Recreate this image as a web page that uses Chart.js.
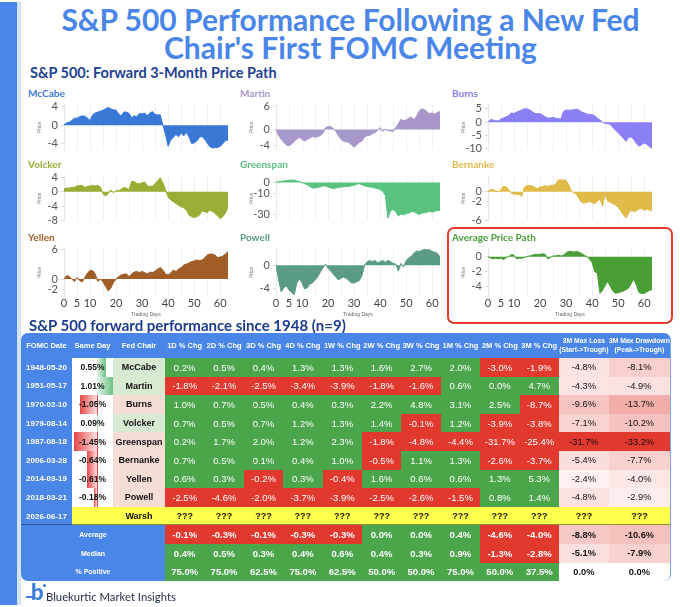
<!DOCTYPE html>
<html>
<head>
<meta charset="utf-8">
<title>S&amp;P 500 Performance Following a New Fed Chair's First FOMC Meeting</title>
<script src="https://cdn.jsdelivr.net/npm/chart.js@4.4.1/dist/chart.umd.min.js"></script>
<style>
  body { margin: 0; width: 680px; height: 607px; position: relative; overflow: hidden; background: #fff; font-family: Lato, "Noto Sans", sans-serif; }
  .abs { position: absolute; white-space: nowrap; }
  canvas { position: absolute; }
  #barL { left: 0; top: 2px; width: 17px; height: 603px; background: #4a86e8; }
  #barL2 { left: 17px; top: 2px; width: 4px; height: 603px; background: #d3e3f9; }
  #title { left: 21px; top: 5px; width: 659px; text-align: center; font-weight: 700; font-size: 30px; line-height: 28px; color: #4a86e8; white-space: normal; }
  #sub { left: 30px; top: 65px; font-weight: 700; font-size: 14.5px; line-height: 16px; color: #1f3f8f; }
  .lbl { font-weight: 700; font-size: 10px; line-height: 12px; }
  #avgBox { left: 447px; top: 227px; width: 222px; height: 93px; border: 2px solid #e33b2e; border-radius: 7px; }
  #tblTitle { left: 29px; top: 316px; font-weight: 700; font-size: 15px; line-height: 18px; color: #1d3c8c; }
  #perf { position: absolute; left: 21px; top: 333px; width: 649px; height: 248px; background: #4a86e8;
          border-radius: 7px; border-right: 1px solid #7aa7ef; overflow: hidden; display: grid;
          grid-template-columns: 51px 41px 52px repeat(10, 39.4px) 50px 61px;
          grid-template-rows: 25px repeat(12, 18.6px);
          font-family: "Liberation Sans", Arial, sans-serif; }
  #perf div { display: flex; align-items: center; justify-content: center; position: relative; overflow: hidden; }
  .hd { color: #fff; font-weight: 700; font-size: 7.5px; text-align: center; line-height: 9px; white-space: pre; }
  #perf div.hd2 { font-size: 6.8px; line-height: 8.5px; overflow: visible; }
  .dt { color: #fff; font-weight: 700; font-size: 8px; }
  .sd { background: #fff; color: #111; font-weight: 700; font-size: 8.5px; }
  .sd span { position: relative; z-index: 2; }
  .nm { color: #111; font-weight: 700; font-size: 9px; }
  .num { color: #fff; font-size: 9.5px; }
  .bold { font-weight: 700; }
  .ls { color: #111; font-size: 9.3px; }
  .yel { background: #ffff4d; color: #111; font-weight: 700; font-size: 9px; box-shadow: inset 0 -1px 0 #8d8d3a; }
  .sl { color: #fff; font-weight: 700; font-size: 7px; grid-column: span 3; }
  #logoB { left: 31px; top: 580px; font-weight: 900; font-size: 22px; line-height: 24px; color: #3d7de0; }
  #logoLine { left: 26px; top: 596px; width: 8px; height: 2px; background: #3d7de0; }
  #logoDot { left: 43px; top: 584px; width: 3px; height: 3px; border-radius: 50%; background: #3d7de0; }
  #brand { left: 46px; top: 589px; font-size: 11.3px; line-height: 16px; color: #1d2a48; }
</style>
</head>
<body>
<div class="abs" id="barL"></div>
<div class="abs" id="barL2"></div>
<div class="abs" id="title">S&amp;P 500 Performance Following a New Fed<br>Chair's First FOMC Meeting</div>
<div class="abs" id="sub">S&amp;P 500: Forward 3-Month Price Path</div>
<div class="abs" id="avgBox"></div>
<div id="charts"></div>
<div class="abs" id="tblTitle">S&amp;P 500 forward performance since 1948 (n=9)</div>
<div id="perf"></div>
<div class="abs" id="logoLine"></div>
<div class="abs" id="logoB">b</div>
<div class="abs" id="logoDot"></div>
<div class="abs" id="brand">Bluekurtic Market Insights</div>

<script>
// ---- price paths (% change from FOMC day, by trading day) ----
const days = [0,1,2,3,4,5,6,7,8,9,10,11,12,13,14,15,16,17,18,19,20,21,22,23,24,25,26,27,28,29,30,31,
              32,33,34,35,36,37,38,39,40,41,42,43,44,45,46,47,48,49,50,51,52,53,54,55,56,57,58,59,60,61,62,63];

const mccabe = [0,0.5,0.6,1.0,1.5,1.5,1.8,2.0,1.9,1.5,1.0,2.2,2.6,2.8,3.0,3.2,3.5,3.8,3.5,3.3,3.2,2.4,2.0,2.8,2.8,2.5,1.6,2.0,1.8,2.5,2.4,2.6,
                2.0,2.6,2.9,2.3,2.2,2.2,0,-2.0,-4.5,-3.2,-2.6,-2.0,-2.5,-1.6,-2.3,-1.5,-2.5,-3.9,-3.8,-3.4,-2.6,-2.4,-3.0,-3.8,-4.6,-4.9,-4.8,-4.8,-4.5,-4.0,-3.3,-3.2];
const martin = [0,-1.5,-2.5,-3.3,-4.0,-4.2,-3.8,-3.0,-2.5,-2.0,-2.5,-3.0,-2.6,-2.2,-1.8,-2.0,-1.8,-1.6,-1.0,0.5,0.8,0.8,0.3,-0.5,-1.6,-2.5,-3.0,-3.2,-3.3,-4.0,-4.5,-4.0,
                -3.3,-3.0,-2.0,-1.5,-1.5,-1.0,-0.8,-0.2,0.5,-0.5,0.2,-0.3,-0.3,-0.5,0.5,1.5,2.7,2.3,2.5,3.0,3.3,2.5,3.5,4.8,5.4,5.2,4.6,4.2,4.3,4.0,4.5,4.7];
const burns = [0,1.0,0.8,0.5,0.5,1.2,1.6,2.0,2.5,3.5,3.2,3.8,4.2,4.6,5.0,5.0,4.6,4.0,3.3,3.2,3.2,2.6,2.0,1.5,1.6,1.8,1.5,1.3,1.2,4.0,4.6,4.5,
               4.5,4.7,4.9,4.5,3.8,3.5,3.0,3.0,2.8,2.5,1.5,0.8,0,-0.5,-0.6,-0.8,-2.0,-3.0,-4.0,-5.0,-6.0,-7.2,-5.8,-5.5,-6.5,-8.0,-9.0,-8.5,-7.8,-8.3,-9.2,-9.8];
const volcker = [0.8,1.0,1.0,1.2,1.2,1.6,1.7,1.8,1.2,1.5,1.6,1.7,1.6,1.8,1.3,-0.6,-1.2,-0.5,0.5,-0.3,0.3,0.3,0.7,1.2,1.0,0.6,2.9,2.8,2.3,2.2,2.5,2.7,
                 1.6,1.5,1.5,2.3,3.0,3.9,2.5,0.5,-1.5,-2.3,-2.8,-3.3,-3.8,-4.2,-4.5,-5.2,-6.5,-7.0,-7.2,-7.0,-6.6,-5.4,-5.6,-5.9,-5.2,-5.5,-6.0,-6.8,-7.5,-7.0,-6.0,-4.2];
const greenspan = [0,1.0,1.2,1.5,2.0,2.0,2.5,2.3,1.5,1.0,0,-1.0,-2.0,-3.5,-5.0,-5.0,-4.5,-4.0,-3.0,-3.2,-4.0,-5.0,-5.5,-5.0,-4.5,-4.0,-4.0,-3.5,-3.5,-3.0,-2.5,-1.5,
                   -1.0,-2.0,-3.0,-3.5,-4.0,-4.5,-5.0,-5.5,-6.5,-8.0,-12.0,-33.0,-26.0,-25.0,-27.0,-31.0,-29.0,-30.0,-28.5,-28.5,-27.0,-27.0,-28.5,-29.5,-28.5,-28.0,-27.5,-26.5,-27.5,-26.5,-26.0,-26.0];
const bernanke = [0,0.5,0.5,0.2,0,0.5,1.2,1.0,0.5,-0.3,-0.5,-0.5,-0.6,-0.9,1.0,1.3,1.3,1.2,0.9,0.7,1.0,1.1,1.3,1.1,1.3,1.4,1.6,2.5,2.5,2.5,2.4,1.5,
                  0.2,-0.2,-0.5,-1.5,-2.2,-2.4,-2.2,-2.0,-2.3,-2.5,-2.0,-1.5,-3.0,-0.5,-2.0,-2.2,-2.5,-2.8,-3.2,-4.0,-4.8,-5.5,-4.5,-3.8,-4.2,-4.0,-3.6,-3.5,-3.9,-3.6,-3.8,-4.0];
const yellen = [0,0.7,0.5,0,-0.5,0.3,-0.3,-0.6,0.3,1.2,1.7,1.7,1.0,-0.5,0,-0.6,-1.5,-2.4,-1.8,-0.7,0,0.5,0.8,1.0,1.0,0.5,1.0,1.4,1.5,1.3,1.5,1.3,
                1.0,1.4,1.3,1.6,2.0,2.3,1.8,1.0,0.8,1.2,1.8,1.5,2.0,2.3,2.8,3.0,3.2,3.5,3.6,3.8,3.7,3.8,4.2,4.8,5.0,5.0,4.8,4.3,4.4,4.6,5.0,5.5];
const powell = [0,-2.5,-4.5,-3.8,-3.5,-4.2,-4.6,-5.0,-3.0,-2.3,-3.0,-4.0,-3.8,-3.2,-3.0,-2.5,-2.0,-1.2,-0.5,0.2,-0.5,-1.0,-1.5,-2.0,-2.5,-2.2,-2.0,-2.2,-2.6,-3.0,-3.0,-2.8,
                -2.6,-1.8,0,0.6,0.8,0.6,0.8,0.4,0.6,0.8,0.5,0.8,0.6,0.3,0.2,-1.0,0.3,-0.3,0.8,1.2,1.5,2.0,2.4,2.3,2.5,2.7,2.6,2.6,2.3,2.2,2.0,1.4];
const averagePath = [0,-0.2,-0.3,-0.2,-0.3,-0.2,-0.4,-0.1,0,0.3,0.2,-0.3,-0.2,-0.2,-0.1,0,0.1,0.2,0.3,0.3,0.3,0.4,0.3,-0.3,-0.1,0.1,0.1,0.2,0.1,0.2,0.5,0.7,
                     0.7,0.6,0.7,0.6,0.4,0.2,0,-0.3,-0.8,-2.0,-2.2,-4.9,-4.5,-3.8,-3.3,-4.0,-4.6,-4.9,-4.8,-4.7,-4.6,-4.4,-4.2,-3.6,-3.0,-3.8,-4.8,-4.9,-4.9,-4.7,-4.5,-4.4];

const xGridDays = [0,5,10,15,20,25,30,35,40,45,50,55,60];
const xTickLabels = [0,5,10,20,30,40,50,60];

// ---- table ----
const colHeaders = ["FOMC Date","Same Day","Fed Chair","1D % Chg","2D % Chg","3D % Chg","4D % Chg","1W % Chg","2W % Chg",
                    "3W % Chg","1M % Chg","2M % Chg","3M % Chg","3M Max Loss\n(Start->Trough)","3M Max Drawdown\n(Peak->Trough)"];
const fomcDates = ["1948-05-20","1951-05-17","1970-02-10","1979-08-14","1987-08-18","2006-03-28","2014-03-19","2018-03-21"];
const sameDay = [0.55, 1.01, -1.05, 0.09, -1.45, -0.64, -0.61, -0.18];
const chairs = ["McCabe","Martin","Burns","Volcker","Greenspan","Bernanke","Yellen","Powell"];
const perfRows = [
  [0.2, 0.5, 0.4, 1.3, 1.3, 1.6, 2.7, 2.0, -3.0, -1.9],
  [-1.8, -2.1, -2.5, -3.4, -3.9, -1.8, -1.6, 0.6, 0.0, 4.7],
  [1.0, 0.7, 0.5, 0.4, 0.3, 2.2, 4.8, 3.1, 2.5, -8.7],
  [0.7, 0.5, 0.7, 1.2, 1.3, 1.4, -0.1, 1.2, -3.9, -3.8],
  [0.2, 1.7, 2.0, 1.2, 2.3, -1.8, -4.8, -4.4, -31.7, -25.4],
  [0.7, 0.5, 0.1, 0.4, 1.0, -0.5, 1.1, 1.3, -2.6, -3.7],
  [0.6, 0.3, -0.2, 0.3, -0.4, 1.6, 0.6, 0.6, 1.3, 5.3],
  [-2.5, -4.6, -2.0, -3.7, -3.9, -2.5, -2.6, -1.5, 0.8, 1.4]
];
const maxLoss = [-4.8, -4.3, -9.6, -7.1, -31.7, -5.4, -2.4, -4.8];
const maxDrawdown = [-8.1, -4.9, -13.7, -10.2, -33.2, -7.7, -4.0, -2.9];
const nextDate = "2026-06-17";
const nextChair = "Warsh";
const summaryLabels = ["Average", "Median", "% Positive"];
const averageRow = [-0.1, -0.3, -0.1, -0.3, -0.3, 0.0, 0.0, 0.4, -4.6, -4.0, -8.8, -10.6];
const medianRow = [0.4, 0.5, 0.3, 0.4, 0.6, 0.4, 0.3, 0.9, -1.3, -2.8, -5.1, -7.9];
const positiveRow = [75.0, 75.0, 62.5, 75.0, 62.5, 50.0, 50.0, 75.0, 50.0, 37.5, 0.0, 0.0];

// ---- small area charts ----
const panels = [
  { name: "McCabe", data: mccabe, color: "#3a78d8", label: "#3f7bd6", min: -5.4, max: 4.4, ticks: [4, 0, -4] },
  { name: "Martin", data: martin, color: "#a797cb", label: "#a899cc", min: -5.4, max: 6.5, ticks: [6, 0, -4] },
  { name: "Burns", data: burns, color: "#8a7ff5", label: "#8a7ff0", min: -10.6, max: 6.6, ticks: [5, 0, -5, -10] },
  { name: "Volcker", data: volcker, color: "#9aad35", label: "#9aad35", min: -8.3, max: 4.5, ticks: [4, 0, -4, -8] },
  { name: "Greenspan", data: greenspan, color: "#58c27e", label: "#5bc07e", min: -36, max: 6.5, ticks: [0, -10, -30] },
  { name: "Bernanke", data: bernanke, color: "#e0bb4a", label: "#e0b94a", min: -6.2, max: 3.4, ticks: [0, -2, -6] },
  { name: "Yellen", data: yellen, color: "#a05e26", label: "#a05e26", min: -3.4, max: 6.1, ticks: [6, 0, -2] },
  { name: "Powell", data: powell, color: "#5b9b84", label: "#5a9b84", min: -5.2, max: 2.8, ticks: [0, -4] },
  { name: "Average Price Path", data: averagePath, color: "#4a9e36", label: "#4a9e36", min: -5.25, max: 1.07, ticks: [0, -2, -4] }
];

const plotLefts = [64, 276, 488];
const plotTops = [103, 174, 247];
const labelLefts = [28, 240, 452];
const plotW = 164, plotH = 49, axisW = 36, padT = 8, padR = 8;

const holder = document.getElementById("charts");

panels.forEach((p, k) => {
  const r = Math.floor(k / 3), c = k % 3;
  const bottomRow = r === 2;

  const lbl = document.createElement("div");
  lbl.className = "abs lbl";
  lbl.style.left = labelLefts[c] + "px";
  lbl.style.top = (plotTops[r] - 16) + "px";
  lbl.style.color = p.label;
  lbl.textContent = p.name;
  holder.appendChild(lbl);

  const cv = document.createElement("canvas");
  const w = axisW + plotW + padR;
  const h = padT + plotH + (bottomRow ? 22 : padT);
  cv.width = w; cv.height = h;
  cv.style.width = w + "px"; cv.style.height = h + "px";
  cv.style.left = (plotLefts[c] - axisW) + "px";
  cv.style.top = (plotTops[r] - padT) + "px";
  holder.appendChild(cv);

  new Chart(cv, {
    type: "line",
    data: {
      datasets: [{
        data: p.data.map((v, i) => ({ x: days[i], y: v })),
        borderColor: p.color,
        backgroundColor: p.color,
        borderWidth: 1,
        fill: "origin",
        pointRadius: 0,
        tension: 0
      }]
    },
    options: {
      responsive: false,
      animation: false,
      events: [],
      layout: { padding: { top: padT, right: padR, bottom: bottomRow ? 0 : padT, left: 0 } },
      plugins: { legend: { display: false }, tooltip: { enabled: false } },
      scales: {
        x: {
          type: "linear", min: 0, max: 63,
          afterBuildTicks: ax => { ax.ticks = xGridDays.map(v => ({ value: v })); },
          grid: { color: "#eef0f3", drawTicks: false },
          border: { display: false },
          ticks: {
            display: bottomRow, padding: 1, color: "#444", autoSkip: false, maxRotation: 0,
            font: { size: 11, family: "Lato" },
            callback: v => xTickLabels.includes(v) ? String(v) : ""
          },
          title: { display: bottomRow, text: "Trading Days", color: "#666", font: { size: 5 }, padding: 0 },
          afterFit: ax => { ax.height = bottomRow ? 22 : 0; }
        },
        y: {
          min: p.min, max: p.max,
          afterBuildTicks: ax => { ax.ticks = p.ticks.map(v => ({ value: v })); },
          grid: { drawOnChartArea: false, tickLength: 3, color: "#dcdcdc" },
          border: { color: "#e8e8e8" },
          ticks: { padding: 3, color: "#555", font: { size: 11, family: "Lato" } },
          title: { display: true, text: "Price", color: "#777", font: { size: 5 }, padding: { top: 9, bottom: 0 } },
          afterFit: ax => { ax.width = axisW; }
        }
      }
    }
  });
});

// ---- performance table ----
const GREEN = "#4ba64b", RED = "#e2392f";
const perf = document.getElementById("perf");

function add(text, cls, bg) {
  const d = document.createElement("div");
  if (cls) d.className = cls;
  if (bg) d.style.background = bg;
  d.textContent = text;
  perf.appendChild(d);
  return d;
}
function pct(v) { return v.toFixed(1) + "%"; }
function pinkFor(v, maxAbs) {
  const t = Math.min(1, Math.abs(v) / maxAbs);
  const mix = (a, b) => Math.round(a + (b - a) * t);
  return "rgb(" + mix(255, 226) + "," + mix(255, 57) + "," + mix(255, 47) + ")";
}
const lossMax = Math.max(...maxLoss.map(Math.abs));
const ddMax = Math.max(...maxDrawdown.map(Math.abs));

colHeaders.forEach((h, j) => add(h, j >= 13 ? "hd hd2" : "hd"));

fomcDates.forEach((date, i) => {
  add(date, "dt");
  const sd = add("", "sd");
  const bar = document.createElement("i");
  const v = sameDay[i];
  const axis = 25, scale = 16;
  bar.style.position = "absolute";
  bar.style.top = "0"; bar.style.bottom = "0";
  if (v >= 0) {
    bar.style.left = axis + "px";
    bar.style.width = (v * scale) + "px";
    bar.style.background = "linear-gradient(to right, #e6f4e9, #6cc282)";
  } else {
    bar.style.left = (axis + v * scale) + "px";
    bar.style.width = (-v * scale) + "px";
    bar.style.background = "linear-gradient(to right, #e8484a, #fbe1e1)";
    bar.style.borderRight = "1px dashed #e04040";
  }
  sd.appendChild(bar);
  const s = document.createElement("span");
  s.textContent = v.toFixed(2) + "%";
  sd.appendChild(s);
  add(chairs[i], "nm", v >= 0 ? "#d9ead3" : "#f5dcd5");
  perfRows[i].forEach(x => add(pct(x), "num", x >= 0 ? GREEN : RED));
  add(pct(maxLoss[i]), "ls", pinkFor(maxLoss[i], lossMax));
  add(pct(maxDrawdown[i]), "ls", pinkFor(maxDrawdown[i], ddMax));
});

const nd = add(nextDate, "dt");
nd.style.boxShadow = "inset 0 -1px 0 #2b55a0";
add("", "yel");
add(nextChair, "yel");
for (let j = 0; j < 12; j++) add("???", "yel");

[averageRow, medianRow, positiveRow].forEach((row, k) => {
  add(summaryLabels[k], "sl");
  row.forEach((x, j) => {
    if (j < 10) {
      const isPos = k === 2 || x >= 0;
      add(pct(x), "num bold", isPos ? GREEN : RED);
    } else {
      add(pct(x), "ls bold", k === 2 ? "#fff" : pinkFor(x, j === 10 ? lossMax : ddMax));
    }
  });
});
</script>
</body>
</html>
